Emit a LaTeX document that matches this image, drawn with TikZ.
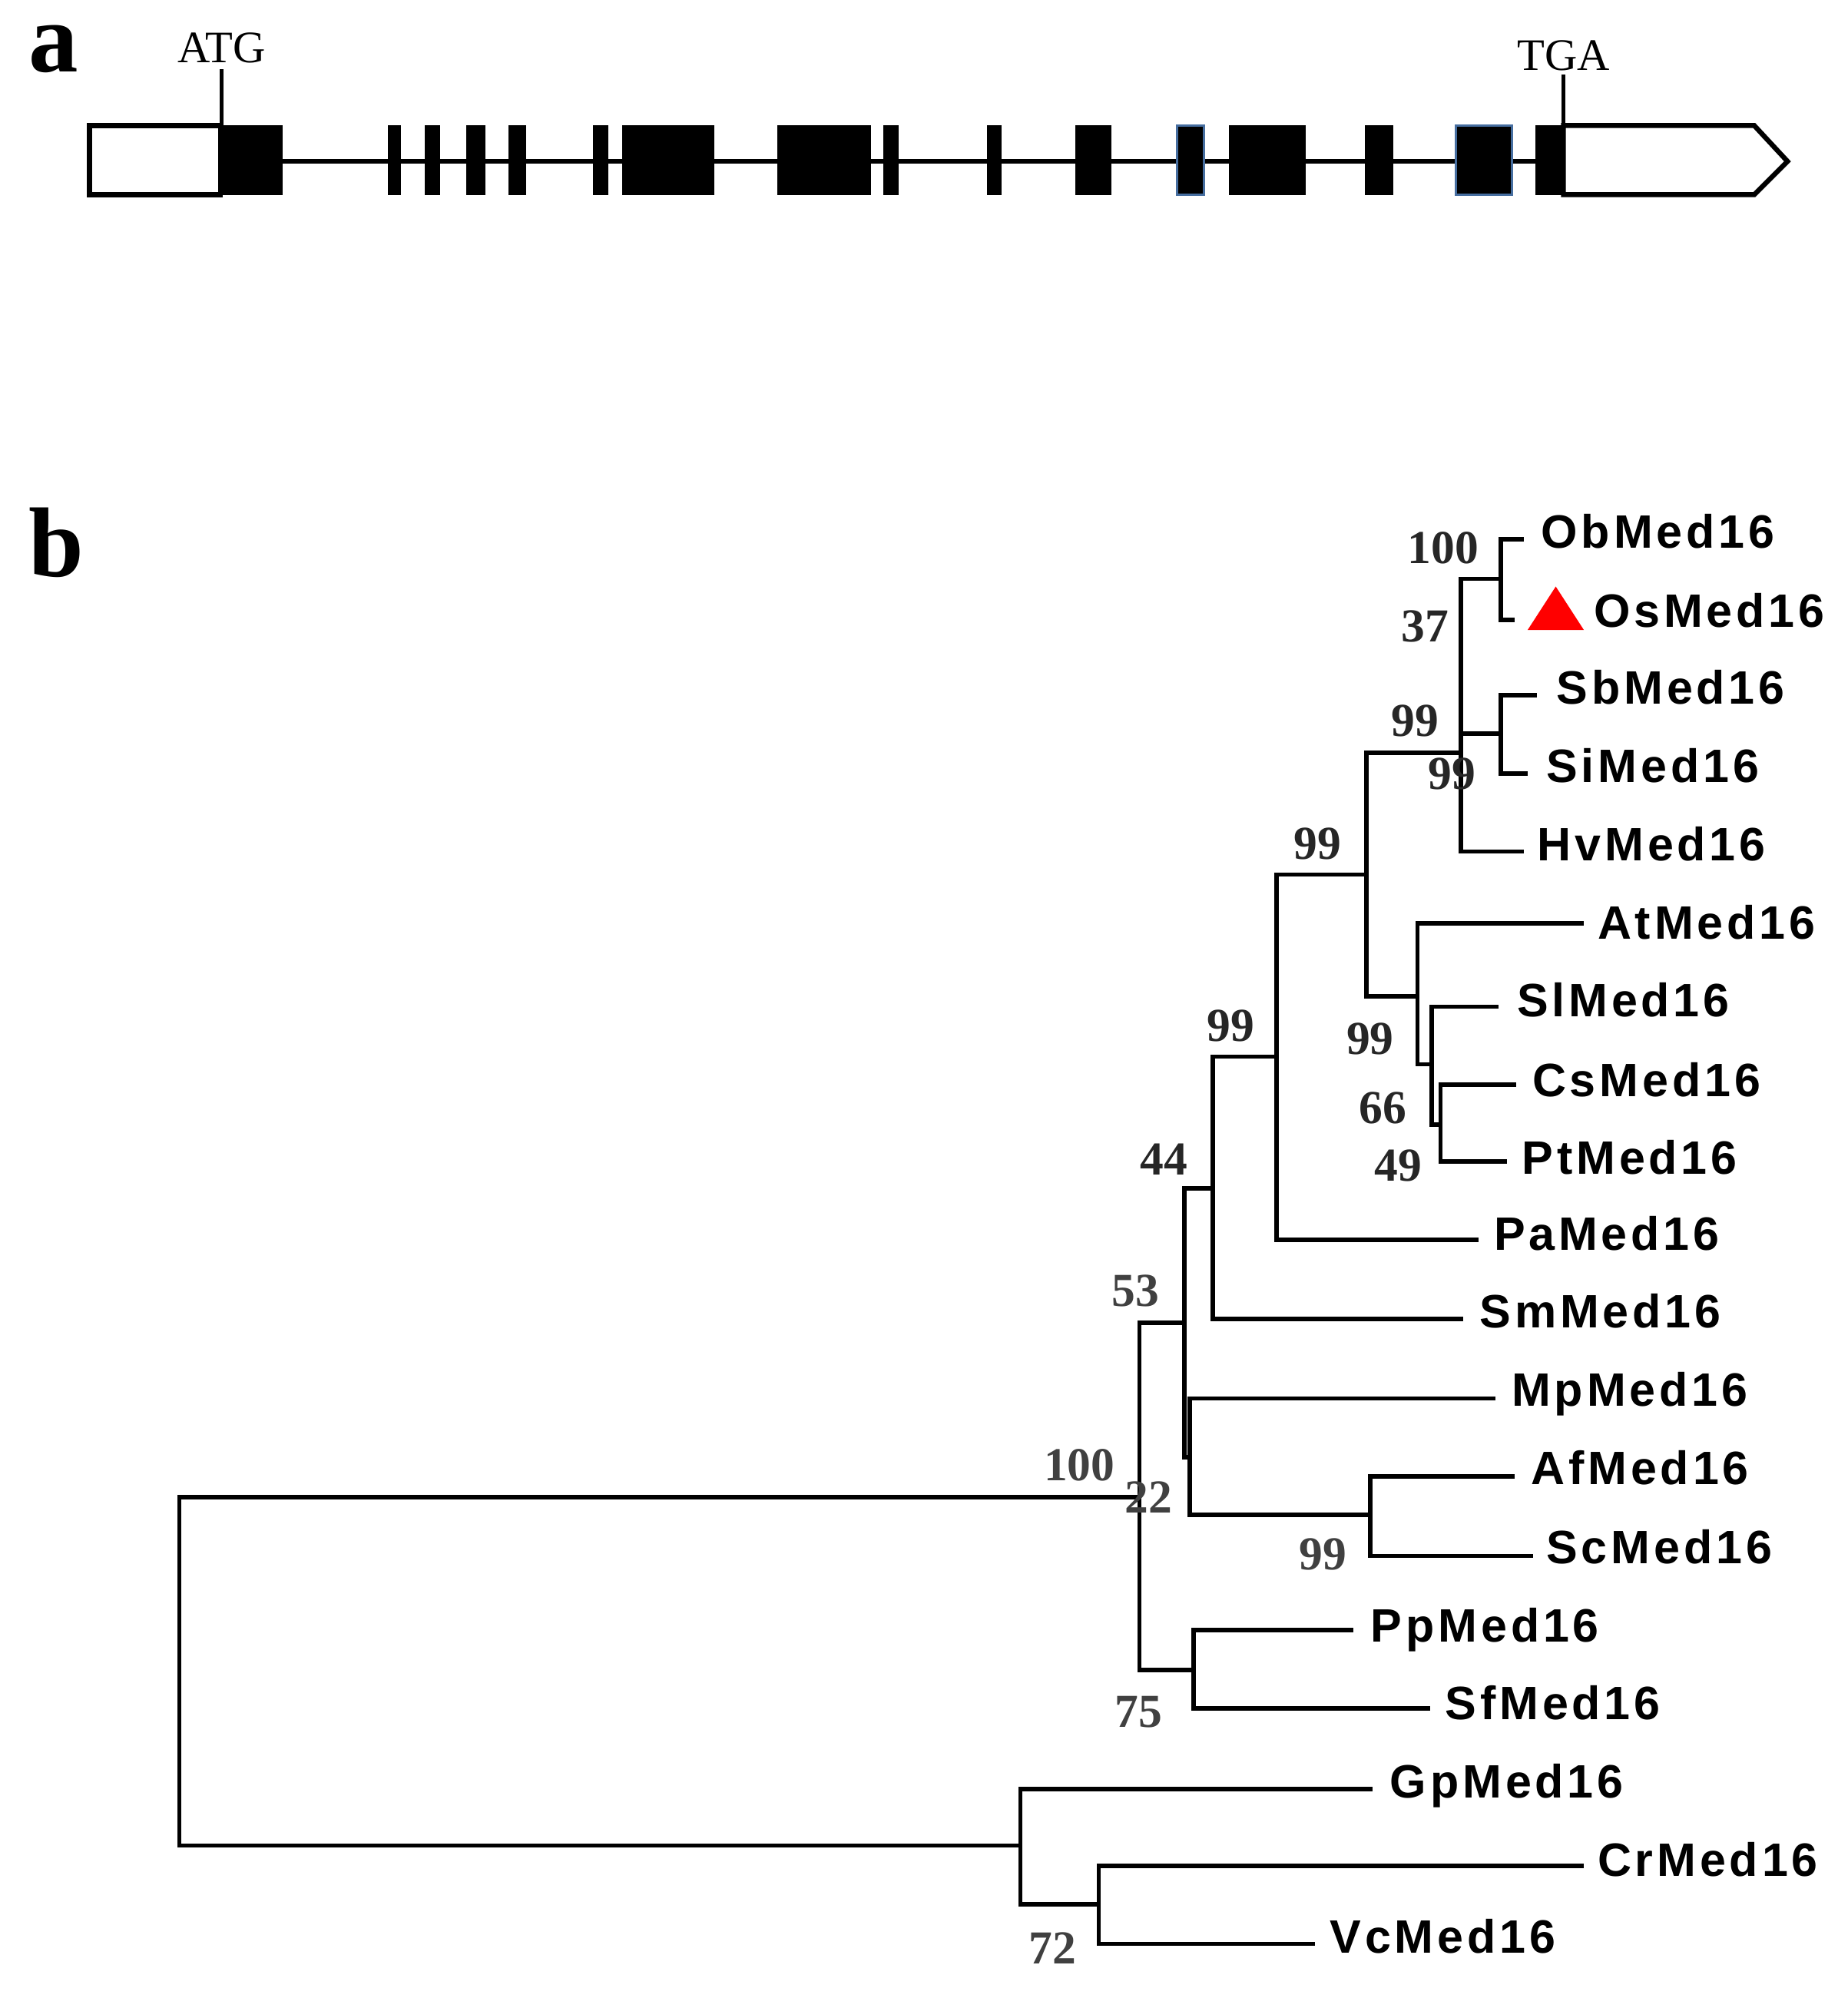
\documentclass[tikz,border=0pt]{standalone}
\usepackage{fontspec}
\setmainfont{Liberation Serif}
\newfontfamily\leaffont{Liberation Sans}[LetterSpace=8]
\definecolor{blueedge}{RGB}{70,110,160}
\begin{document}
\begin{tikzpicture}[x=0.01cm,y=-0.01cm,
  br/.style={line width=0.95pt, line join=miter},
  leaf/.style={font=\leaffont\fontsize{10.4}{12}\selectfont\bfseries, inner sep=0pt, anchor=base west},
  bootb/.style={font=\fontsize{10.5}{12}\selectfont\bfseries, text=black!85, inner sep=0pt},
  bootr/.style={font=\fontsize{10.5}{12}\selectfont\bfseries, text=black!75, inner sep=0pt},
  utr/.style={draw, fill=white, line width=1.1pt},
  intron/.style={line width=0.9pt},
  panel/.style={font=\fontsize{22}{24}\selectfont\bfseries, inner sep=0pt, anchor=base west},
  codon/.style={font=\fontsize{10}{12}\selectfont, inner sep=0pt, anchor=base}]
\useasboundingbox (0,0) rectangle (1443,1568);

% ---------------- panel a ----------------
\node[panel] (la) at (22,56) {a};
\draw[intron] (221,126) -- (1199,126);
\draw[utr] (70,98) rectangle (172,152);
\fill (172,97.5) rectangle (221,152.5);
\foreach \a/\b in {303/313,332/344,364/379,397/411,463/475,486/558,607/680,690/702,771/782,840/868,960/1020,1066/1088,1199/1221}
  \fill (\a,97.5) rectangle (\b,152.5);
\foreach \a/\b in {919/940,1137/1181}
  \filldraw[fill=black, draw=blueedge, line width=0.5pt] (\a,98) rectangle (\b,152);
\draw[utr] (1221,98) -- (1370,98) -- (1396,126) -- (1370,152) -- (1221,152) -- cycle;
\coordinate (atgfoot) at (173,98);
\coordinate (tgafoot) at (1221,98);
\node[codon] (atg) at (173,49) {ATG};
\node[codon] (tga) at (1221,55) {TGA};
\draw[line width=0.8pt] (atgfoot) -- (173,54);
\draw[line width=0.8pt] (tgafoot) -- (1221,58);

% ---------------- panel b ----------------
\node[panel] (lb) at (22,450) {b};

% internal nodes
\coordinate (E) at (1172,452);
\coordinate (F) at (1172,573);
\coordinate (D) at (1141,588);
\coordinate (Q) at (1067,683);
\coordinate (A) at (1107,778);
\coordinate (B) at (1118,831);
\coordinate (C) at (1125,878);
\coordinate (G) at (997,825);
\coordinate (H) at (947,928);
\coordinate (L) at (925,1033);
\coordinate (L2) at (929,1138);
\coordinate (J) at (1070,1183);
\coordinate (M) at (932,1304);
\coordinate (K) at (890,1169);
\coordinate (R) at (140,1305);
\coordinate (N) at (797,1441);
\coordinate (O) at (858,1487);

% leaf tips and labels
\coordinate (tOb) at (1190,421);  \node[leaf] (Ob) at (1203,428) {ObMed16};
\coordinate (tOs) at (1183,484);  \node[leaf] (Os) at (1244,490) {OsMed16};
\coordinate (tSb) at (1200,543);  \node[leaf] (Sb) at (1215,550) {SbMed16};
\coordinate (tSi) at (1193,604);  \node[leaf] (Si) at (1207,611) {SiMed16};
\coordinate (tHv) at (1190,665);  \node[leaf] (Hv) at (1200,672) {HvMed16};
\coordinate (tAt) at (1237,721);  \node[leaf] (At) at (1247,733) {AtMed16};
\coordinate (tSl) at (1170,786);  \node[leaf] (Sl) at (1184,794) {SlMed16};
\coordinate (tCs) at (1184,847);  \node[leaf] (Cs) at (1196,856) {CsMed16};
\coordinate (tPt) at (1177,907);  \node[leaf] (Pt) at (1188,917) {PtMed16};
\coordinate (tPa) at (1155,968);  \node[leaf] (Pa) at (1166,976) {PaMed16};
\coordinate (tSm) at (1143,1030); \node[leaf] (Sm) at (1155,1037) {SmMed16};
\coordinate (tMp) at (1168,1092); \node[leaf] (Mp) at (1180,1098) {MpMed16};
\coordinate (tAf) at (1183,1153); \node[leaf] (Af) at (1195,1159) {AfMed16};
\coordinate (tSc) at (1197,1215); \node[leaf] (Sc) at (1207,1221) {ScMed16};
\coordinate (tPp) at (1057,1273); \node[leaf] (Pp) at (1070,1282) {PpMed16};
\coordinate (tSf) at (1117,1334); \node[leaf] (Sf) at (1128,1343) {SfMed16};
\coordinate (tGp) at (1072,1397); \node[leaf] (Gp) at (1085,1404) {GpMed16};
\coordinate (tCr) at (1237,1457); \node[leaf] (Cr) at (1247,1465) {CrMed16};
\coordinate (tVc) at (1027,1518); \node[leaf] (Vc) at (1038,1525) {VcMed16};

% marker
\fill[red] (1193,492) -- (1237,492) -- (1215,458) -- cycle;

% branches
\draw[br] (E) |- (tOb);  \draw[br] (E) |- (tOs);
\draw[br] (F) |- (tSb);  \draw[br] (F) |- (tSi);
\draw[br] (D) |- (E);    \draw[br] (D) |- (F);   \draw[br] (D) |- (tHv);
\draw[br] (Q) |- (D);    \draw[br] (Q) |- (A);
\draw[br] (A) |- (tAt);  \draw[br] (A) |- (B);
\draw[br] (B) |- (tSl);  \draw[br] (B) |- (C);
\draw[br] (C) |- (tCs);  \draw[br] (C) |- (tPt);
\draw[br] (G) |- (Q);    \draw[br] (G) |- (tPa);
\draw[br] (H) |- (G);    \draw[br] (H) |- (tSm);
\draw[br] (L) |- (H);    \draw[br] (L) |- (L2);
\draw[br] (L2) |- (tMp); \draw[br] (L2) |- (J);
\draw[br] (J) |- (tAf);  \draw[br] (J) |- (tSc);
\draw[br] (M) |- (tPp);  \draw[br] (M) |- (tSf);
\draw[br] (K) |- (L);    \draw[br] (K) |- (M);
\draw[br] (R) |- (K);    \draw[br] (R) |- (N);
\draw[br] (N) |- (tGp);  \draw[br] (N) |- (O);
\draw[br] (O) |- (tCr);  \draw[br] (O) |- (tVc);

% bootstrap values
\node[bootb] (bE)  at (1127,428) {100};
\node[bootb] (bD)  at (1113,489) {37};
\node[bootb] (bD2) at (1105,563) {99};
\node[bootb] (bF)  at (1134,604) {99};
\node[bootb] (bQ)  at (1029,659) {99};
\node[bootb] (bB)  at (1070,811) {99};
\node[bootb] (bC)  at (1080,865) {66};
\node[bootb] (bC2) at (1092,910) {49};
\node[bootb] (bG)  at (961,801) {99};
\node[bootb] (bH)  at (909,905) {44};
\node[bootr] (bL)  at (887,1008) {53};
\node[bootr] (bK)  at (843,1144) {100};
\node[bootr] (bL2) at (897,1169) {22};
\node[bootr] (bJ)  at (1033,1214) {99};
\node[bootr] (bM)  at (889,1337) {75};
\node[bootr] (bO)  at (822,1521) {72};
\end{tikzpicture}
\end{document}
